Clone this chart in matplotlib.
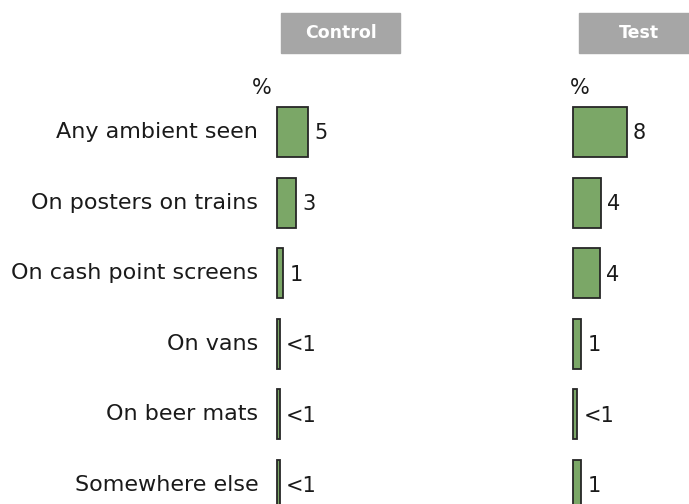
import matplotlib.pyplot as plt
from matplotlib.patches import Rectangle

# Data
categories = ["Any ambient seen", "On posters on trains", "On cash point screens",
              "On vans", "On beer mats", "Somewhere else"]
control_values = [4.6, 2.8, 0.9, 0.4, 0.4, 0.4]
control_labels = ["5", "3", "1", "<1", "<1", "<1"]
test_values = [7.9, 4.1, 4.0, 1.2, 0.6, 1.2]
test_labels = ["8", "4", "4", "1", "<1", "1"]
panel_titles = ["Control", "Test"]

W, H = 689, 504
BAR_COLOR = "#7ba767"
EDGE_COLOR = "#262626"
HEADER_COLOR = "#a6a6a6"
TEXT_COLOR = "#1a1a1a"
PX_PER_UNIT = 6.8
ROW0, ROW_STEP = 132, 70.6
FS = 15
CAT_FS = 16

fig = plt.figure(figsize=(W / 100, H / 100), dpi=100)


def px_to_data_y(y_px):
    return (y_px - ROW0) / ROW_STEP


def panel(left_px, values, labels, header_left, pct_x, title, show_cats):
    width_px = 110
    ax = fig.add_axes([left_px / W, 0, width_px / W, 1])
    ax.set_xlim(0, width_px / PX_PER_UNIT)
    ax.set_ylim(px_to_data_y(H), px_to_data_y(0))
    ax.axis("off")
    ypos = list(range(len(values)))
    bars = ax.barh(ypos, values, height=0.71, color=BAR_COLOR,
                   edgecolor=EDGE_COLOR, linewidth=1.3, align="center")
    for b in bars:
        b.set_clip_on(False)
    for y, v, lab in zip(ypos, values, labels):
        ax.annotate(lab, (v, y), xytext=(4.5, -1), textcoords="offset points",
                    ha="left", va="center", fontsize=FS, color=TEXT_COLOR)
    fig.text(pct_x / W, 1 - 88 / H, "%", ha="center", va="center",
             fontsize=FS, color=TEXT_COLOR)
    if show_cats:
        for y, c in zip(ypos, categories):
            ax.annotate(c, (0, y), xytext=(-13.5, 0), textcoords="offset points",
                        ha="right", va="center", fontsize=CAT_FS,
                        color=TEXT_COLOR, annotation_clip=False)
    # header box
    bx, by, bw, bh = header_left, 13, 119, 40
    fig.patches.append(Rectangle((bx / W, 1 - (by + bh) / H), bw / W, bh / H,
                                 transform=fig.transFigure, color=HEADER_COLOR,
                                 zorder=0))
    fig.text((bx + bw / 2) / W, 1 - (by + bh / 2) / H, title, ha="center",
             va="center", color="white", fontsize=12.5, fontweight="bold")


panel(277, control_values, control_labels, 281, 262, panel_titles[0], True)
panel(573, test_values, test_labels, 579, 580, panel_titles[1], False)

fig.savefig("out.png", dpi=100)
